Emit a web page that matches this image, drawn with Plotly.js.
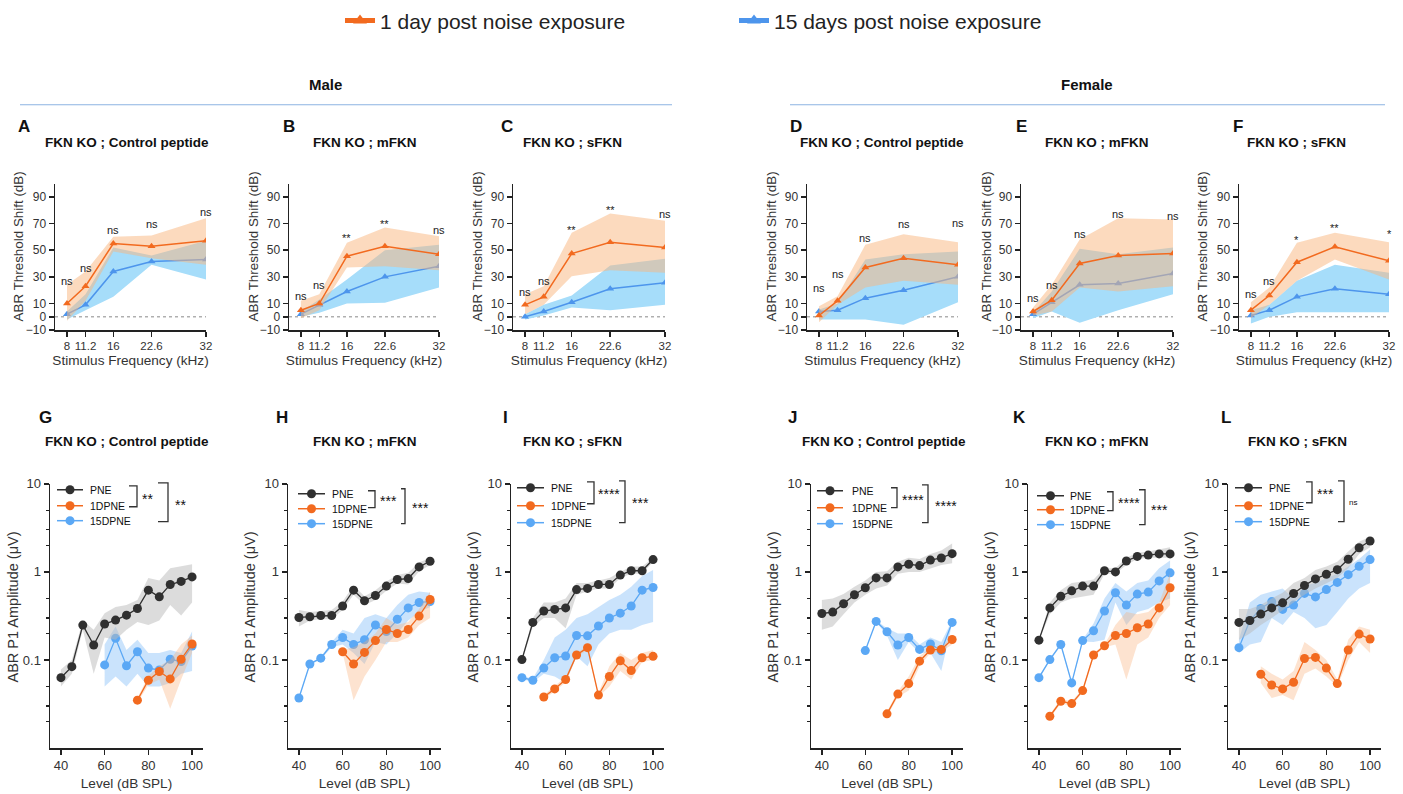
<!DOCTYPE html>
<html><head><meta charset="utf-8">
<script src="https://cdn.plot.ly/plotly-3.0.1.min.js"></script>
<style>body{margin:0;background:#fff}#chart{width:1403px;height:794px}</style>
</head><body><div id="chart"></div>
<script>
// ---------------- DATA ----------------
const freqKHz = [8, 11.2, 16, 22.6, 32];
const freqTickText = ['8', '11.2', '16', '22.6', '32'];
const thrTickVals = [-10, 0, 10, 30, 50, 70, 90];
const levelDB = [40, 45, 50, 55, 60, 65, 70, 75, 80, 85, 90, 95, 100];
const levelTicks = [40, 60, 80, 100];
const ampTickVals = [0.1, 1, 10];
const ampTickText = ['0.1', '1', '10'];
const ampMinorTicks = [0.02, 0.03, 0.05, 0.2, 0.3, 0.5, 2, 3, 5];

const seriesTop = ['1 day post noise exposure', '15 days post noise exposure'];
const seriesBottom = ['PNE', '1DPNE', '15DPNE'];
const topTitles = ['FKN KO ; Control peptide', 'FKN KO ; mFKN', 'FKN KO ; sFKN', 'FKN KO ; Control peptide', 'FKN KO ; mFKN', 'FKN KO ; sFKN'];
const topLetters = ['A', 'B', 'C', 'D', 'E', 'F'];
const botLetters = ['G', 'H', 'I', 'J', 'K', 'L'];
const topYTitle = 'ABR Threshold Shift (dB)', topXTitle = 'Stimulus Frequency (kHz)';
const botYTitle = 'ABR P1 Amplitude (\u03bcV)', botXTitle = 'Level (dB SPL)';

// Panel A (male, control peptide) threshold shift (dB)
const A_d1 = [10, 23, 55, 53, 57];
const A_d1_hi = [24, 34, 60, 61, 74];
const A_d1_lo = [-3, 12, 49, 44, 39];
const A_d15 = [2, 9, 34, 41.5, 43];
const A_d15_hi = [4, 17, 52, 46, 57];
const A_d15_lo = [-2, 5, 15, 39, 28];
const A_sig = ['ns', 'ns', 'ns', 'ns', 'ns'];
const A_sigY = [27, 37, 65, 70, 79];
// Panel B (male, mFKN)
const B_d1 = [5, 10, 45.5, 53, 47];
const B_d1_hi = [12, 17, 55.5, 67, 60.5];
const B_d1_lo = [-1, 5, 37, 38, 35];
const B_d15 = [2, 9, 19, 30, 38];
const B_d15_hi = [4, 13, 28, 50, 54];
const B_d15_lo = [0, 3, 10, 10.5, 22];
const B_sig = ['ns', 'ns', '**', '**', 'ns'];
const B_sigY = [15.5, 24, 59, 70, 65];
// Panel C (male, sFKN)
const C_d1 = [9, 15, 47.5, 56, 52];
const C_d1_hi = [17, 23, 63, 77.5, 72];
const C_d1_lo = [2, 9, 30.5, 35, 33];
const C_d15 = [0, 4, 11, 21, 25.5];
const C_d15_hi = [2, 9, 16, 38.5, 43.5];
const C_d15_lo = [-2, 1, 7, 5, 9];
const C_sig = ['ns', 'ns', '**', '**', 'ns'];
const C_sigY = [19, 27, 65, 80, 77];
// Panel D (female, control peptide)
const D_d1 = [1, 12, 37, 44, 39];
const D_d1_hi = [8, 15.5, 54, 62, 56];
const D_d1_lo = [-4, 9, 22, 27, 24];
const D_d15 = [4, 5, 14, 20, 30];
const D_d15_hi = [5.5, 10, 43, 47, 49];
const D_d15_lo = [-2, -2, -2, -6, 11];
const D_sig = ['ns', 'ns', 'ns', 'ns', 'ns'];
const D_sigY = [22, 32, 59, 70, 70.5];
// Panel E (female, mFKN)
const E_d1 = [4, 12.5, 40, 46, 47.5];
const E_d1_hi = [7, 24, 58, 74, 73];
const E_d1_lo = [1, 4, 22, 19, 23];
const E_d15 = [2, 11, 24, 25, 32.5];
const E_d15_hi = [3, 19, 51, 47, 52];
const E_d15_lo = [-1, 4, -4.5, 5, 17];
const E_sig = ['ns', 'ns', 'ns', 'ns', 'ns'];
const E_sigY = [14, 24, 62.5, 77, 76];
// Panel F (female, sFKN)
const F_d1 = [5, 16, 41, 52.5, 42];
const F_d1_hi = [11, 22, 55.5, 63, 56];
const F_d1_lo = [-1, 9, 27, 43, 28];
const F_d15 = [1, 5, 15, 21, 17];
const F_d15_hi = [5, 9, 27, 39, 33];
const F_d15_lo = [-5, 0, 3.5, 3.5, 3.5];
const F_sig = ['ns', 'ns', '*', '**', '*'];
const F_sigY = [17, 27, 58, 67, 62];

// Panel G (male, control peptide) P1 amplitude (uV)
const G_pne = [0.063, 0.084, 0.249, 0.148, 0.256, 0.284, 0.323, 0.384, 0.62, 0.521, 0.719, 0.78, 0.877];
const G_pne_hi = [0.078, 0.1, 0.28, 0.22, 0.34, 0.40, 0.42, 0.48, 0.85, 0.80, 1.10, 1.15, 1.22];
const G_pne_lo = [0.05, 0.07, 0.22, 0.07, 0.18, 0.17, 0.22, 0.27, 0.25, 0.28, 0.42, 0.32, 0.45];
const G_d1_lv = [75, 80, 85, 90, 95, 100];
const G_d1 = [0.035, 0.059, 0.074, 0.061, 0.102, 0.152];
const G_d1_hi = [0.037, 0.066, 0.085, 0.10, 0.15, 0.19];
const G_d1_lo = [0.033, 0.052, 0.06, 0.028, 0.06, 0.12];
const G_d15_lv = [60, 65, 70, 75, 80, 85, 90, 95, 100];
const G_d15 = [0.088, 0.176, 0.086, 0.124, 0.081, 0.077, 0.102, 0.096, 0.144];
const G_d15_hi = [0.15, 0.24, 0.13, 0.17, 0.12, 0.12, 0.13, 0.12, 0.21];
const G_d15_lo = [0.05, 0.065, 0.05, 0.07, 0.05, 0.05, 0.055, 0.07, 0.075];
const G_sig = ['**', '**'];
// Panel H (male, mFKN)
const H_pne = [0.304, 0.31, 0.32, 0.32, 0.41, 0.62, 0.47, 0.54, 0.69, 0.82, 0.84, 1.14, 1.32];
const H_pne_hi = [0.37, 0.35, 0.36, 0.37, 0.46, 0.70, 0.53, 0.62, 0.78, 0.92, 0.98, 1.28, 1.45];
const H_pne_lo = [0.24, 0.28, 0.29, 0.29, 0.37, 0.55, 0.42, 0.48, 0.61, 0.74, 0.72, 1.02, 1.2];
const H_d1_lv = [60, 65, 70, 75, 80, 85, 90, 95, 100];
const H_d1 = [0.124, 0.09, 0.122, 0.166, 0.222, 0.20, 0.222, 0.315, 0.486];
const H_d1_hi = [0.13, 0.14, 0.16, 0.2, 0.3, 0.25, 0.27, 0.38, 0.6];
const H_d1_lo = [0.12, 0.035, 0.065, 0.1, 0.16, 0.16, 0.18, 0.25, 0.3];
const H_d15_lv = levelDB;
const H_d15 = [0.037, 0.09, 0.105, 0.15, 0.18, 0.15, 0.17, 0.25, 0.21, 0.29, 0.39, 0.45, 0.46];
const H_d15_hi = [0.038, 0.092, 0.108, 0.16, 0.22, 0.2, 0.3, 0.33, 0.3, 0.42, 0.55, 0.6, 0.58];
const H_d15_lo = [0.036, 0.088, 0.102, 0.14, 0.15, 0.12, 0.09, 0.16, 0.15, 0.2, 0.28, 0.35, 0.4];
const H_sig = ['***', '***'];
// Panel I (male, sFKN)
const I_pne = [0.101, 0.267, 0.36, 0.375, 0.39, 0.63, 0.65, 0.72, 0.72, 0.92, 1.03, 1.03, 1.38];
const I_pne_hi = [0.105, 0.3, 0.45, 0.45, 0.5, 0.75, 0.75, 0.8, 0.85, 1.0, 1.15, 1.15, 1.45];
const I_pne_lo = [0.095, 0.24, 0.3, 0.3, 0.23, 0.55, 0.6, 0.65, 0.65, 0.85, 0.95, 0.95, 1.3];
const I_d1_lv = [50, 55, 60, 65, 70, 75, 80, 85, 90, 95, 100];
const I_d1 = [0.038, 0.047, 0.06, 0.114, 0.138, 0.04, 0.065, 0.098, 0.076, 0.106, 0.11];
const I_d1_hi = [0.04, 0.05, 0.064, 0.12, 0.145, 0.042, 0.085, 0.12, 0.1, 0.12, 0.13];
const I_d1_lo = [0.036, 0.044, 0.056, 0.108, 0.13, 0.038, 0.05, 0.075, 0.06, 0.095, 0.1];
const I_d15_lv = levelDB;
const I_d15 = [0.063, 0.059, 0.081, 0.106, 0.111, 0.19, 0.188, 0.243, 0.30, 0.34, 0.41, 0.62, 0.665];
const I_d15_hi = [0.065, 0.062, 0.1, 0.18, 0.22, 0.3, 0.33, 0.4, 0.48, 0.55, 0.68, 0.9, 1.05];
const I_d15_lo = [0.061, 0.056, 0.07, 0.065, 0.055, 0.11, 0.085, 0.15, 0.2, 0.22, 0.22, 0.25, 0.27];
const I_sig = ['****', '***'];
// Panel J (female, control peptide)
const J_pne = [0.337, 0.35, 0.435, 0.55, 0.66, 0.855, 0.855, 1.14, 1.22, 1.18, 1.36, 1.44, 1.61];
const J_pne_hi = [0.48, 0.5, 0.56, 0.68, 0.8, 1.0, 1.02, 1.3, 1.45, 1.4, 1.6, 1.75, 2.1];
const J_pne_lo = [0.22, 0.24, 0.33, 0.45, 0.55, 0.65, 0.7, 0.95, 1.0, 1.0, 1.1, 1.2, 1.25];
const J_d1_lv = [70, 75, 80, 85, 90, 95, 100];
const J_d1 = [0.0245, 0.041, 0.054, 0.097, 0.13, 0.132, 0.171];
const J_d1_hi = [0.026, 0.044, 0.065, 0.11, 0.14, 0.14, 0.19];
const J_d1_lo = [0.023, 0.038, 0.045, 0.085, 0.12, 0.125, 0.15];
const J_d15_lv = [60, 65, 70, 75, 80, 85, 90, 95, 100];
const J_d15 = [0.128, 0.274, 0.209, 0.148, 0.18, 0.132, 0.152, 0.127, 0.267];
const J_d15_hi = [0.13, 0.28, 0.23, 0.2, 0.2, 0.15, 0.18, 0.16, 0.28];
const J_d15_lo = [0.126, 0.27, 0.19, 0.1, 0.16, 0.12, 0.12, 0.075, 0.26];
const J_sig = ['****', '****'];
// Panel K (female, mFKN)
const K_pne = [0.168, 0.39, 0.53, 0.61, 0.69, 0.69, 1.03, 1.0, 1.33, 1.5, 1.55, 1.6, 1.6];
const K_pne_hi = [0.17, 0.45, 0.62, 0.75, 0.78, 0.82, 1.1, 1.1, 1.45, 1.65, 1.7, 1.8, 1.9];
const K_pne_lo = [0.165, 0.33, 0.45, 0.5, 0.52, 0.55, 0.95, 0.95, 1.2, 1.4, 1.45, 1.45, 1.45];
const K_d1_lv = [45, 50, 55, 60, 65, 70, 75, 80, 85, 90, 95, 100];
const K_d1 = [0.023, 0.034, 0.032, 0.045, 0.114, 0.145, 0.19, 0.2, 0.232, 0.256, 0.39, 0.66];
const K_d1_hi = [0.024, 0.036, 0.034, 0.047, 0.12, 0.15, 0.25, 0.35, 0.33, 0.35, 0.45, 0.95];
const K_d1_lo = [0.022, 0.032, 0.030, 0.043, 0.108, 0.14, 0.15, 0.06, 0.15, 0.18, 0.3, 0.42];
const K_d15_lv = levelDB;
const K_d15 = [0.063, 0.101, 0.15, 0.055, 0.166, 0.215, 0.36, 0.58, 0.42, 0.56, 0.59, 0.79, 0.975];
const K_d15_hi = [0.065, 0.104, 0.155, 0.057, 0.17, 0.26, 0.5, 0.75, 0.6, 0.75, 0.8, 1.1, 1.35];
const K_d15_lo = [0.061, 0.098, 0.145, 0.053, 0.162, 0.16, 0.17, 0.45, 0.25, 0.35, 0.38, 0.45, 0.5];
const K_sig = ['****', '***'];
// Panel L (female, sFKN)
const L_pne = [0.267, 0.281, 0.332, 0.39, 0.445, 0.569, 0.7, 0.833, 0.94, 1.06, 1.39, 1.88, 2.24];
const L_pne_hi = [0.38, 0.38, 0.42, 0.5, 0.58, 0.75, 0.85, 1.05, 1.15, 1.3, 1.7, 2.2, 2.5];
const L_pne_lo = [0.17, 0.2, 0.25, 0.3, 0.36, 0.45, 0.55, 0.65, 0.75, 0.85, 1.1, 1.6, 1.9];
const L_d1_lv = [50, 55, 60, 65, 70, 75, 80, 85, 90, 95, 100];
const L_d1 = [0.069, 0.052, 0.047, 0.056, 0.104, 0.107, 0.081, 0.054, 0.13, 0.197, 0.173];
const L_d1_hi = [0.085, 0.07, 0.06, 0.075, 0.16, 0.13, 0.1, 0.06, 0.17, 0.24, 0.22];
const L_d1_lo = [0.055, 0.037, 0.04, 0.035, 0.07, 0.08, 0.065, 0.05, 0.1, 0.16, 0.12];
const L_d15_lv = levelDB;
const L_d15 = [0.138, 0.28, 0.385, 0.46, 0.375, 0.42, 0.57, 0.52, 0.63, 0.76, 0.93, 1.16, 1.38];
const L_d15_hi = [0.17, 0.45, 0.55, 0.6, 0.65, 0.5, 0.7, 0.75, 0.85, 0.95, 1.15, 1.4, 1.8];
const L_d15_lo = [0.12, 0.15, 0.16, 0.3, 0.25, 0.35, 0.3, 0.23, 0.25, 0.35, 0.5, 0.65, 0.75];
const L_sig = ['***', 'ns'];

// ---------------- STYLE / LAYOUT ----------------
const W = 1403, H = 794;
const PX = p => p / W, PY = p => 1 - p / H;
const FONT = 'Liberation Sans, Arial, Helvetica, sans-serif';
const ORANGE = '#F26A1F', BLUE_T = '#4D95EC', BLUE_B = '#5BA8F5', BLACK = '#303030';
const BAND_BLUE_T = 'rgb(166,221,250)';
const BAND_ORANGE_T = 'rgba(249,181,125,0.5)';
const BAND_GRAY = 'rgba(185,185,185,0.5)';
const BAND_BLUE_B = 'rgba(150,200,250,0.5)';
const BAND_ORANGE_B = 'rgba(250,175,120,0.35)';

const topDom = [[55, 206], [289, 439], [513, 665], [807, 958], [1021, 1173], [1239, 1389]];
const botDom = [[50, 203], [288, 441], [511, 664], [811, 963], [1028, 1181], [1228, 1381]];
const topY = [182, 329], botY = [483, 748];
const topTitleX = [127, 365, 572, 882, 1097, 1296];
const botTitleX = [127, 365, 572, 884, 1097, 1297];
const topLetterX = [24, 289, 507, 796, 1021, 1238];
const botLetterX = [45, 282, 505, 793, 1019, 1226];
const topYTitleX = [18, 253, 477, 771, 986, 1202];
const botYTitleX = [13, 250, 473, 773, 990, 1190];

const topSets = [
  [A_d1, A_d1_hi, A_d1_lo, A_d15, A_d15_hi, A_d15_lo, A_sig, A_sigY],
  [B_d1, B_d1_hi, B_d1_lo, B_d15, B_d15_hi, B_d15_lo, B_sig, B_sigY],
  [C_d1, C_d1_hi, C_d1_lo, C_d15, C_d15_hi, C_d15_lo, C_sig, C_sigY],
  [D_d1, D_d1_hi, D_d1_lo, D_d15, D_d15_hi, D_d15_lo, D_sig, D_sigY],
  [E_d1, E_d1_hi, E_d1_lo, E_d15, E_d15_hi, E_d15_lo, E_sig, E_sigY],
  [F_d1, F_d1_hi, F_d1_lo, F_d15, F_d15_hi, F_d15_lo, F_sig, F_sigY]
];
const botSets = [
  {pne: [G_pne, G_pne_hi, G_pne_lo], d1: [G_d1_lv, G_d1, G_d1_hi, G_d1_lo], d15: [G_d15_lv, G_d15, G_d15_hi, G_d15_lo], sig: G_sig},
  {pne: [H_pne, H_pne_hi, H_pne_lo], d1: [H_d1_lv, H_d1, H_d1_hi, H_d1_lo], d15: [H_d15_lv, H_d15, H_d15_hi, H_d15_lo], sig: H_sig},
  {pne: [I_pne, I_pne_hi, I_pne_lo], d1: [I_d1_lv, I_d1, I_d1_hi, I_d1_lo], d15: [I_d15_lv, I_d15, I_d15_hi, I_d15_lo], sig: I_sig},
  {pne: [J_pne, J_pne_hi, J_pne_lo], d1: [J_d1_lv, J_d1, J_d1_hi, J_d1_lo], d15: [J_d15_lv, J_d15, J_d15_hi, J_d15_lo], sig: J_sig},
  {pne: [K_pne, K_pne_hi, K_pne_lo], d1: [K_d1_lv, K_d1, K_d1_hi, K_d1_lo], d15: [K_d15_lv, K_d15, K_d15_hi, K_d15_lo], sig: K_sig},
  {pne: [L_pne, L_pne_hi, L_pne_lo], d1: [L_d1_lv, L_d1, L_d1_hi, L_d1_lo], d15: [L_d15_lv, L_d15, L_d15_hi, L_d15_lo], sig: L_sig}
];
// bottom legend geometry: [lineX0, lineX1, textX, rowY0, rowY1, rowY2]
const botLeg = [[57, 83, 88, 489, 505, 520], [298, 325, 330, 493, 508, 523], [517, 544, 549, 487, 505, 522],
                [817, 843, 850, 490, 507, 523], [1037, 1064, 1068, 495, 509, 524], [1235, 1262, 1267, 487, 505, 521]];
// brackets: [x, yTop, yBot, tickLeft, textX, textY] x2
const botBr = [
  [[137, 485, 506, 129, 140, 498], [168, 482, 521, 158, 173, 504]],
  [[375, 490, 507, 368, 378, 500], [405, 488, 523, 401, 410, 507]],
  [[594, 481, 503, 587, 596, 493], [625, 480, 522, 619, 630, 502]],
  [[897, 487, 507, 891, 900, 499], [928, 484, 522, 922, 933, 505]],
  [[1113, 491, 510, 1107, 1116, 502], [1145, 489, 524, 1139, 1149, 509]],
  [[1312, 481, 502, 1306, 1315, 493], [1344, 480, 521, 1338, 1347, 502]]
];

const band = (x, hi, lo) => ({x: x.concat(x.slice().reverse()), y: hi.concat(lo.slice().reverse())});
const paperText = (x, y, text, size, extra) => Object.assign({xref: 'paper', yref: 'paper', x: PX(x), y: PY(y),
  xanchor: 'center', yanchor: 'middle', text: text, showarrow: false, font: {size: size, color: '#111', family: FONT}}, extra || {});

const traces = [];
const legFont = {size: 21, color: '#222', family: FONT};
const layout = {
  width: W, height: H, margin: {l: 0, r: 0, t: 0, b: 0},
  paper_bgcolor: '#fff', plot_bgcolor: 'rgba(0,0,0,0)',
  font: {family: FONT, color: '#222'},
  showlegend: true,
  legend: {orientation: 'h', x: PX(340), xanchor: 'left', y: PY(19), yanchor: 'middle',
           font: legFont, itemsizing: 'constant', bgcolor: 'rgba(0,0,0,0)'},
  legend2: {orientation: 'h', x: PX(734), xanchor: 'left', y: PY(19), yanchor: 'middle',
           font: legFont, itemsizing: 'constant', bgcolor: 'rgba(0,0,0,0)'},
  annotations: [], shapes: []
};

const axBase = {showline: true, linecolor: '#222', linewidth: 1.5, ticks: 'outside', ticklen: 5, tickwidth: 1.5,
  tickcolor: '#222', showgrid: false, zeroline: false, fixedrange: true};

// top row
topSets.forEach((s, i) => {
  const n = i + 1, xa = 'x' + (n === 1 ? '' : n), ya = 'y' + (n === 1 ? '' : n);
  layout['xaxis' + (n === 1 ? '' : n)] = Object.assign({}, axBase, {
    domain: [PX(topDom[i][0]), PX(topDom[i][1])], range: [5.93, 32], anchor: ya,
    tickmode: 'array', tickvals: freqKHz, ticktext: freqTickText, tickfont: {size: 11.5, color: '#333', family: FONT},
    title: {text: topXTitle, font: {size: 13.6, color: '#333'}, standoff: 4}
  });
  layout['yaxis' + (n === 1 ? '' : n)] = Object.assign({}, axBase, {
    domain: [PY(topY[1]), PY(topY[0])], range: [-10, 100], anchor: xa,
    tickmode: 'array', tickvals: thrTickVals, tickfont: {size: 12, color: '#333', family: FONT}
  });
  layout.annotations.push(paperText(topYTitleX[i], 245, topYTitle, 13.4, {textangle: -90, font: {size: 13.4, color: '#333', family: FONT}}));
  const [d1, d1hi, d1lo, d15, d15hi, d15lo, sig, sigY] = s;
  const b15 = band(freqKHz, d15hi, d15lo), b1 = band(freqKHz, d1hi, d1lo);
  traces.push({type: 'scatter', mode: 'lines', x: b15.x, y: b15.y, xaxis: xa, yaxis: ya, fill: 'toself',
    fillcolor: BAND_BLUE_T, line: {width: 0}, hoverinfo: 'skip', showlegend: false});
  traces.push({type: 'scatter', mode: 'lines+markers', x: freqKHz, y: d15, xaxis: xa, yaxis: ya,
    line: {color: BLUE_T, width: 1.5}, marker: {symbol: 'triangle-up', size: 7, color: BLUE_T},
    name: seriesTop[1], showlegend: i === 0, legend: 'legend2'});
  traces.push({type: 'scatter', mode: 'lines', x: b1.x, y: b1.y, xaxis: xa, yaxis: ya, fill: 'toself',
    fillcolor: BAND_ORANGE_T, line: {width: 0}, hoverinfo: 'skip', showlegend: false});
  traces.push({type: 'scatter', mode: 'lines+markers', x: freqKHz, y: d1, xaxis: xa, yaxis: ya,
    line: {color: ORANGE, width: 1.5}, marker: {symbol: 'triangle-up', size: 7, color: ORANGE},
    name: seriesTop[0], showlegend: i === 0, legend: 'legend'});
  layout.shapes.push({type: 'line', xref: xa + ' domain', yref: ya, x0: 0, x1: 1, y0: 0, y1: 0,
    line: {color: '#888', width: 1, dash: 'dot'}, layer: 'below'});
  freqKHz.forEach((f, k) => layout.annotations.push({xref: xa, yref: ya, x: f, y: sigY[k], text: sig[k],
    xanchor: 'center', yanchor: 'middle', showarrow: false, font: {size: 11, color: '#222', family: FONT}}));
  layout.annotations.push(paperText(topTitleX[i], 141, '<b>' + topTitles[i] + '</b>', 13.5));
  layout.annotations.push(paperText(topLetterX[i], 125, '<b>' + topLetters[i] + '</b>', 17));
});

// bottom row
botSets.forEach((s, i) => {
  const n = i + 7, xa = 'x' + n, ya = 'y' + n;
  layout['xaxis' + n] = Object.assign({}, axBase, {
    domain: [PX(botDom[i][0]), PX(botDom[i][1])], range: [35, 105], anchor: ya,
    tickmode: 'array', tickvals: levelTicks, tickfont: {size: 13, color: '#333', family: FONT},
    title: {text: botXTitle, font: {size: 13.6, color: '#333'}, standoff: 6}
  });
  layout['yaxis' + n] = Object.assign({}, axBase, {
    domain: [PY(botY[1]), PY(botY[0])], type: 'log', range: [-2, 1], anchor: xa,
    tickmode: 'array', tickvals: ampTickVals, ticktext: ampTickText, tickfont: {size: 13, color: '#333', family: FONT},
    minor: {tickmode: 'array', tickvals: ampMinorTicks, ticks: 'outside', ticklen: 3, tickwidth: 1.2, tickcolor: '#222'}
  });
  layout.annotations.push(paperText(botYTitleX[i], 607, botYTitle, 14.5, {textangle: -90, font: {size: 14.5, color: '#333', family: FONT}}));
  const [pv, phi, plo] = s.pne, [d1x, d1, d1hi, d1lo] = s.d1, [d15x, d15, d15hi, d15lo] = s.d15;
  const bb = band(d15x, d15hi, d15lo), bg = band(levelDB, phi, plo), bo = band(d1x, d1hi, d1lo);
  traces.push({type: 'scatter', mode: 'lines', x: bb.x, y: bb.y, xaxis: xa, yaxis: ya, fill: 'toself',
    fillcolor: BAND_BLUE_B, line: {width: 0}, hoverinfo: 'skip', showlegend: false});
  traces.push({type: 'scatter', mode: 'lines+markers', x: d15x, y: d15, xaxis: xa, yaxis: ya, name: seriesBottom[2],
    line: {color: BLUE_B, width: 1.3}, marker: {symbol: 'circle', size: 9, color: BLUE_B}, showlegend: false});
  traces.push({type: 'scatter', mode: 'lines', x: bg.x, y: bg.y, xaxis: xa, yaxis: ya, fill: 'toself',
    fillcolor: BAND_GRAY, line: {width: 0}, hoverinfo: 'skip', showlegend: false});
  traces.push({type: 'scatter', mode: 'lines+markers', x: levelDB, y: pv, xaxis: xa, yaxis: ya, name: seriesBottom[0],
    line: {color: BLACK, width: 1.3}, marker: {symbol: 'circle', size: 9, color: BLACK}, showlegend: false});
  traces.push({type: 'scatter', mode: 'lines', x: bo.x, y: bo.y, xaxis: xa, yaxis: ya, fill: 'toself',
    fillcolor: BAND_ORANGE_B, line: {width: 0}, hoverinfo: 'skip', showlegend: false});
  traces.push({type: 'scatter', mode: 'lines+markers', x: d1x, y: d1, xaxis: xa, yaxis: ya, name: seriesBottom[1],
    line: {color: ORANGE, width: 1.3}, marker: {symbol: 'circle', size: 9, color: ORANGE}, showlegend: false});

  // in-plot legend
  const g = botLeg[i], cols = [BLACK, ORANGE, BLUE_B];
  seriesBottom.forEach((nm, k) => {
    const yy = g[3 + k];
    layout.shapes.push({type: 'line', xref: 'paper', yref: 'paper', x0: PX(g[0]), x1: PX(g[1]), y0: PY(yy), y1: PY(yy),
      line: {color: cols[k], width: 1.5}});
    const cx = (g[0] + g[1]) / 2;
    layout.shapes.push({type: 'circle', xref: 'paper', yref: 'paper', x0: PX(cx - 4.5), x1: PX(cx + 4.5), y0: PY(yy + 4.5), y1: PY(yy - 4.5),
      fillcolor: cols[k], line: {width: 0}});
    layout.annotations.push(paperText(g[2], yy, nm, 10.5, {xanchor: 'left'}));
  });
  // brackets
  botBr[i].forEach((b, k) => {
    const [bx, yt, yb, tl, tx, ty] = b;
    layout.shapes.push({type: 'path', xref: 'paper', yref: 'paper',
      path: `M ${PX(tl)} ${PY(yt)} L ${PX(bx)} ${PY(yt)} L ${PX(bx)} ${PY(yb)} L ${PX(tl)} ${PY(yb)}`,
      line: {color: '#333', width: 1.3}});
    const isNs = s.sig[k] === 'ns';
    layout.annotations.push(paperText(tx, ty, s.sig[k], isNs ? 8 : 14, {xanchor: 'left'}));
  });
  layout.annotations.push(paperText(botTitleX[i], 441, '<b>' + topTitles[i] + '</b>', 13.5));
  layout.annotations.push(paperText(botLetterX[i], 417, '<b>' + botLetters[i] + '</b>', 17));
});

// section headers
layout.annotations.push(paperText(325, 83, '<b>Male</b>', 15));
layout.annotations.push(paperText(1087, 83, '<b>Female</b>', 15));
layout.shapes.push({type: 'line', xref: 'paper', yref: 'paper', x0: PX(20), x1: PX(672), y0: PY(103), y1: PY(103), line: {color: '#8DB3E2', width: 1.2}});
layout.shapes.push({type: 'line', xref: 'paper', yref: 'paper', x0: PX(790), x1: PX(1385), y0: PY(103), y1: PY(103), line: {color: '#8DB3E2', width: 1.2}});

Plotly.newPlot('chart', traces, layout, {displayModeBar: false, staticPlot: true});
</script></body></html>
